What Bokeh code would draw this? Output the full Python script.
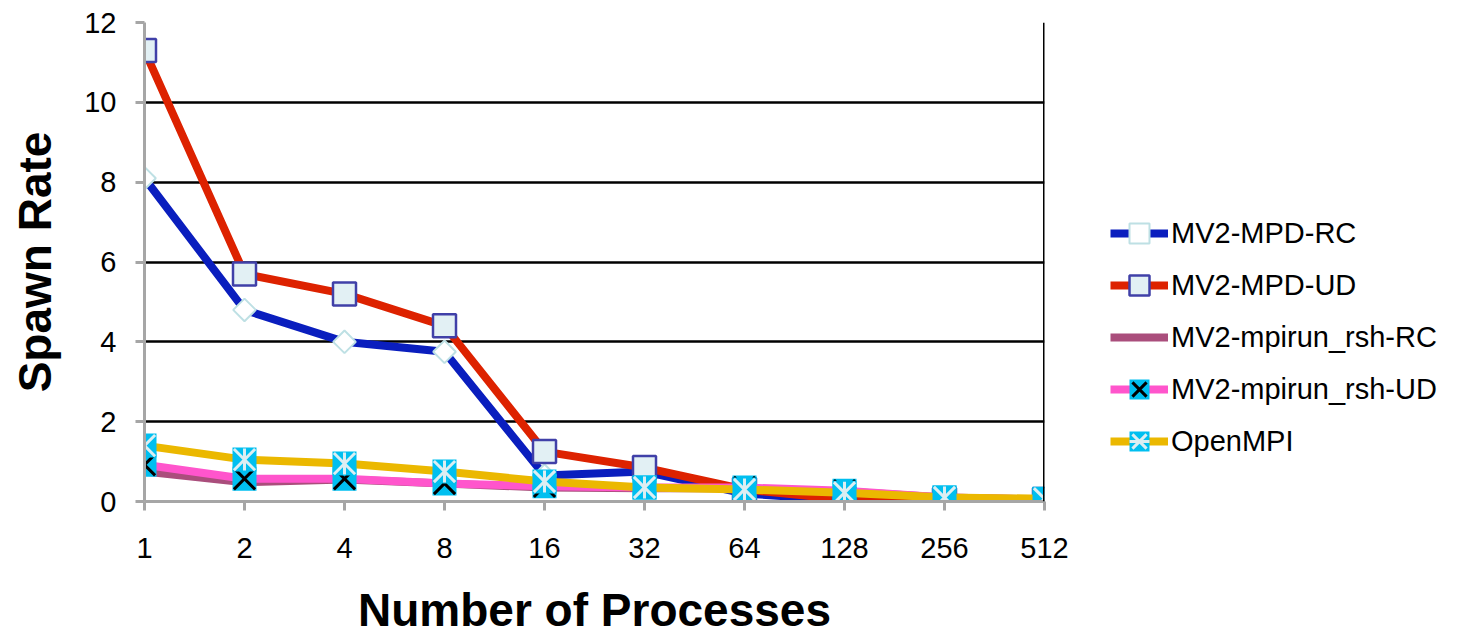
from bokeh.plotting import figure
from bokeh.models import Range1d, FixedTicker, Span, Legend, LegendItem
from bokeh.embed import file_html
from bokeh.resources import INLINE
import numpy as np

# Number of spawned processes (categorical axis)
procs = ["1", "2", "4", "8", "16", "32", "64", "128", "256", "512"]

# Spawn rate per launcher / transport
mpd_rc = [8.1, 4.8, 4.0, 3.75, 0.65, 0.75, 0.2, 0.03, 0.05, 0.05]
mpd_ud = [11.3, 5.7, 5.2, 4.4, 1.25, 0.85, 0.3, 0.05, 0.05, 0.05]
rsh_rc = [0.75, 0.48, 0.55, 0.45, 0.35, 0.33, 0.33, 0.25, 0.1, 0.05]
rsh_ud = [0.92, 0.57, 0.57, 0.45, 0.38, 0.35, 0.35, 0.27, 0.1, 0.05]
openmpi = [1.4, 1.05, 0.95, 0.75, 0.5, 0.35, 0.3, 0.22, 0.1, 0.07]

y_ticks = [0, 2, 4, 6, 8, 10, 12]

xs = list(range(len(procs)))
FONT = "Liberation Sans"
AXIS_GRAY = "#A6A6A6"
CYAN = "#00BFF0"
PALE = "#DCEEF2"

p = figure(frame_width=900, frame_height=479,
           min_border_left=144, min_border_right=0,
           min_border_top=22, min_border_bottom=100,
           x_range=Range1d(0, len(procs) - 1), y_range=Range1d(0, 12),
           output_backend="svg", toolbar_location=None)
p.background_fill_color = "white"
p.border_fill_color = "white"
p.outline_line_color = None

# axes
p.xaxis.ticker = FixedTicker(ticks=xs)
p.xaxis.major_label_overrides = {i: s for i, s in enumerate(procs)}
p.yaxis.ticker = FixedTicker(ticks=y_ticks)
for ax in (p.xaxis[0], p.yaxis[0]):
    ax.axis_line_color = AXIS_GRAY
    ax.axis_line_width = 3
    ax.major_tick_line_color = AXIS_GRAY
    ax.major_tick_line_width = 3
    ax.major_tick_out = 9
    ax.major_tick_in = 0
    ax.minor_tick_line_color = None
    ax.major_label_text_font = FONT
    ax.major_label_text_font_size = "29px"
    ax.major_label_text_color = "black"
    ax.axis_label_text_font = FONT
    ax.axis_label_text_font_size = "46px"
    ax.axis_label_text_font_style = "bold"
    ax.axis_label_text_color = "black"
p.xaxis.axis_label = "Number of Processes"
p.yaxis.axis_label = "Spawn Rate"
p.xaxis.major_label_standoff = 27
p.xaxis.axis_label_standoff = 23
p.yaxis.major_label_standoff = 19
p.yaxis.axis_label_standoff = 20

# grid
p.xgrid.grid_line_color = None
p.ygrid.ticker = FixedTicker(ticks=y_ticks[1:])
p.ygrid.grid_line_color = "black"
p.ygrid.grid_line_width = 2.5
p.add_layout(Span(location=len(procs) - 1, dimension="height",
                  line_color="black", line_width=3))

items = []

# MV2-MPD-RC
l = p.line(xs, mpd_rc, line_color="#0A1EBE", line_width=8, line_join="round")
m = p.scatter(xs, mpd_rc, marker="square", angle=np.pi / 4, size=16,
              fill_color="white", line_color="#BEE0E4", line_width=2)
items.append(LegendItem(label="MV2-MPD-RC", renderers=[l, m]))

# MV2-MPD-UD
l = p.line(xs, mpd_ud, line_color="#DD2200", line_width=8, line_join="round")
m = p.scatter(xs, mpd_ud, marker="square", size=23,
              fill_color="#E2F0F4", line_color="#4040A8", line_width=2.5)
items.append(LegendItem(label="MV2-MPD-UD", renderers=[l, m]))

# MV2-mpirun_rsh-RC
l = p.line(xs, rsh_rc, line_color="#AA4E7C", line_width=8, line_join="round")
items.append(LegendItem(label="MV2-mpirun_rsh-RC", renderers=[l]))

# MV2-mpirun_rsh-UD
l = p.line(xs, rsh_ud, line_color="#FF55CC", line_width=8, line_join="round")
m1 = p.scatter(xs, rsh_ud, marker="square", size=24,
               fill_color=CYAN, line_color=None)
m2 = p.scatter(xs, rsh_ud, marker="x", size=30,
               line_color="black", line_width=3)
items.append(LegendItem(label="MV2-mpirun_rsh-UD", renderers=[l, m1, m2]))

# OpenMPI
l = p.line(xs, openmpi, line_color="#EBB800", line_width=8, line_join="round")
m1 = p.scatter(xs, openmpi, marker="square", size=24,
               fill_color=CYAN, line_color=None)
m2 = p.scatter(xs, openmpi, marker="x", size=30,
               line_color=PALE, line_width=3)
m3 = p.scatter(xs, openmpi, marker="dash", angle=np.pi / 2, size=22,
               line_color=PALE, line_width=3)
items.append(LegendItem(label="OpenMPI", renderers=[l, m1, m2, m3]))

legend = Legend(items=items, location=(66, 35))
legend.label_text_font = FONT
legend.label_text_font_size = "29px"
legend.label_text_color = "black"
legend.glyph_width = 58
legend.glyph_height = 50
legend.label_height = 50
legend.label_standoff = 3
legend.spacing = 2
legend.padding = 0
legend.margin = 0
legend.border_line_color = None
legend.background_fill_alpha = 0
p.add_layout(legend, "right")

open("out.html", "w").write(file_html(p, INLINE))
